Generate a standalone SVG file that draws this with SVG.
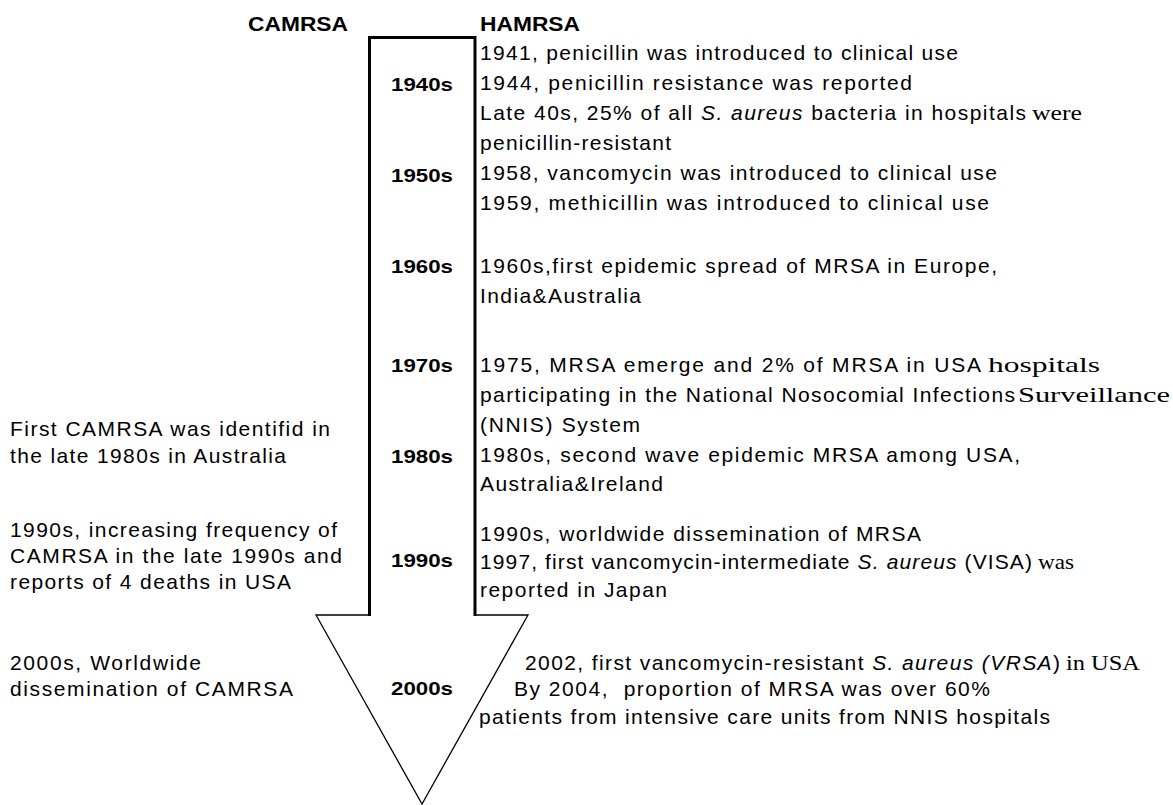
<svg xmlns="http://www.w3.org/2000/svg" width="1173" height="805" viewBox="0 0 1173 805">
<style>
.t{font-family:"Liberation Sans",Arial,sans-serif;font-size:21px;fill:#000}
.s{font-family:"Liberation Serif","Times New Roman",serif;font-size:21px;fill:#000}
.d{font-family:"Liberation Sans",Arial,sans-serif;font-size:19px;font-weight:bold;fill:#000}
.h{font-family:"Liberation Sans",Arial,sans-serif;font-size:21px;font-weight:bold;fill:#000}
.i{font-style:italic}
</style>
<rect width="1173" height="805" fill="#fff"/>
<g id="arrow">
<path d="M369.5,615 L316,615 L422,804 L528,615 L475,615" fill="none" stroke="#000" stroke-width="1.3"/>
<path d="M369.5,616 L369.5,37.5 L475,37.5 L475,616" fill="none" stroke="#000" stroke-width="3"/>
</g>
<g id="headers">
<text class="h" x="248" y="31" textLength="100" lengthAdjust="spacingAndGlyphs">CAMRSA</text>
<text class="h" x="480" y="31" textLength="100" lengthAdjust="spacingAndGlyphs">HAMRSA</text>
</g>
<g id="decades">
<text class="d" x="391" y="91" textLength="62" lengthAdjust="spacingAndGlyphs">1940s</text>
<text class="d" x="391" y="182" textLength="62" lengthAdjust="spacingAndGlyphs">1950s</text>
<text class="d" x="391" y="273" textLength="62" lengthAdjust="spacingAndGlyphs">1960s</text>
<text class="d" x="391" y="372" textLength="62" lengthAdjust="spacingAndGlyphs">1970s</text>
<text class="d" x="391" y="463" textLength="62" lengthAdjust="spacingAndGlyphs">1980s</text>
<text class="d" x="391" y="567" textLength="62" lengthAdjust="spacingAndGlyphs">1990s</text>
<text class="d" x="391" y="695" textLength="62" lengthAdjust="spacingAndGlyphs">2000s</text>
</g>
<g id="hamrsa">
<text class="t" x="480" y="60" textLength="478" lengthAdjust="spacing">1941, penicillin was introduced to clinical use</text>
<text class="t" x="480" y="90" textLength="432" lengthAdjust="spacing">1944, penicillin resistance was reported</text>
<text class="t" x="480" y="120" textLength="546" lengthAdjust="spacing">Late 40s, 25% of all <tspan class="i">S. aureus</tspan> bacteria in hospitals</text>
<text class="s" x="1032" y="120" textLength="50" lengthAdjust="spacingAndGlyphs">were</text>
<text class="t" x="480" y="150" textLength="191" lengthAdjust="spacing">penicillin-resistant</text>
<text class="t" x="480" y="180" textLength="517" lengthAdjust="spacing">1958, vancomycin was introduced to clinical use</text>
<text class="t" x="480" y="210" textLength="509" lengthAdjust="spacing">1959, methicillin was introduced to clinical use</text>
<text class="t" x="480" y="273" textLength="517" lengthAdjust="spacing">1960s,first epidemic spread of MRSA in Europe,</text>
<text class="t" x="480" y="303" textLength="161" lengthAdjust="spacing">India&amp;Australia</text>
<text class="t" x="480" y="372" textLength="501" lengthAdjust="spacing">1975, MRSA emerge and 2% of MRSA in USA</text>
<text class="s" x="988" y="372" textLength="112" lengthAdjust="spacingAndGlyphs">hospitals</text>
<text class="t" x="480" y="402" textLength="535" lengthAdjust="spacing">participating in the National Nosocomial Infections</text>
<text class="s" x="1018" y="402" textLength="152" lengthAdjust="spacingAndGlyphs">Surveillance</text>
<text class="t" x="480" y="432" textLength="160" lengthAdjust="spacing">(NNIS) System</text>
<text class="t" x="480" y="462" textLength="540" lengthAdjust="spacing">1980s, second wave epidemic MRSA among USA,</text>
<text class="t" x="480" y="491" textLength="183" lengthAdjust="spacing">Australia&amp;Ireland</text>
<text class="t" x="480" y="541" textLength="441" lengthAdjust="spacing">1990s, worldwide dissemination of MRSA</text>
<text class="t" x="480" y="569" textLength="552" lengthAdjust="spacing">1997, first vancomycin-intermediate <tspan class="i">S. aureus</tspan> (VISA)</text>
<text class="s" x="1038" y="569" textLength="36" lengthAdjust="spacingAndGlyphs">was</text>
<text class="t" x="480" y="597" textLength="187" lengthAdjust="spacing">reported in Japan</text>
<text class="t" x="525" y="670" textLength="535" lengthAdjust="spacing">2002, first vancomycin-resistant <tspan class="i">S. aureus (VRSA</tspan>)</text>
<text class="s" x="1066" y="670" textLength="74" lengthAdjust="spacingAndGlyphs">in USA</text>
<text class="t" x="514" y="696" textLength="476" lengthAdjust="spacing">By 2004,&#160; proportion of MRSA was over 60%</text>
<text class="t" x="479" y="724" textLength="571" lengthAdjust="spacing">patients from intensive care units from NNIS hospitals</text>
</g>
<g id="camrsa">
<text class="t" x="10" y="436" textLength="320" lengthAdjust="spacing">First CAMRSA was identifid in</text>
<text class="t" x="10" y="463" textLength="276" lengthAdjust="spacing">the late 1980s in Australia</text>
<text class="t" x="10" y="537" textLength="327" lengthAdjust="spacing">1990s, increasing frequency of</text>
<text class="t" x="10" y="563" textLength="332" lengthAdjust="spacing">CAMRSA in the late 1990s and</text>
<text class="t" x="10" y="589" textLength="281" lengthAdjust="spacing">reports of 4 deaths in USA</text>
<text class="t" x="10" y="670" textLength="191" lengthAdjust="spacing">2000s, Worldwide</text>
<text class="t" x="10" y="696" textLength="283" lengthAdjust="spacing">dissemination of CAMRSA</text>
</g>
</svg>
